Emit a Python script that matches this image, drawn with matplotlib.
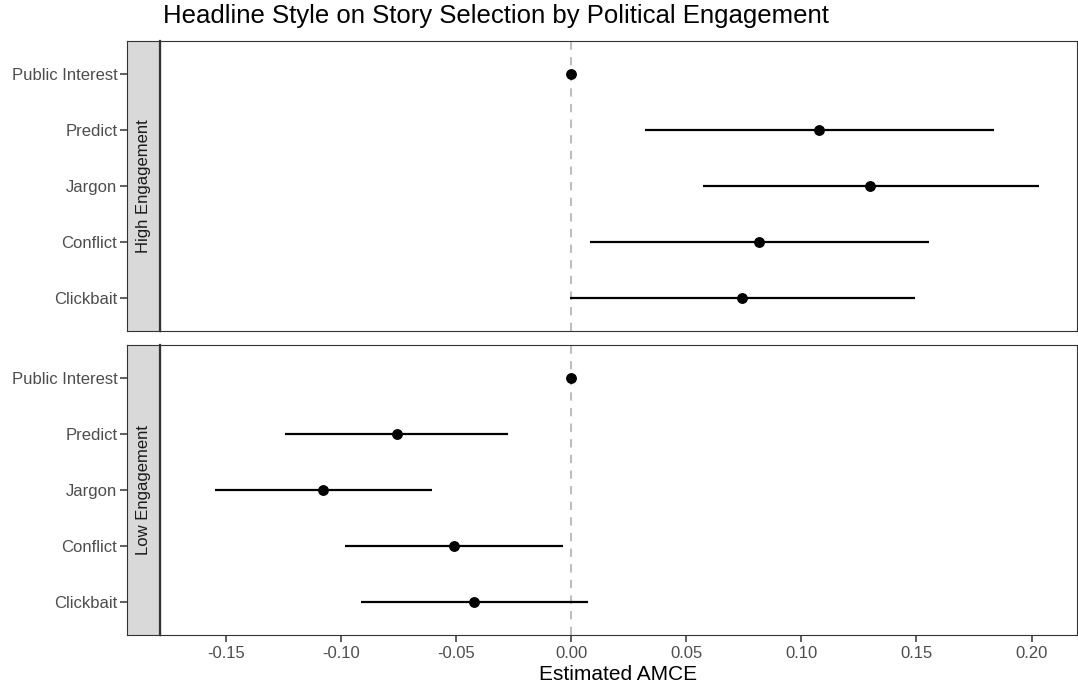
import numpy as np
import matplotlib.pyplot as plt

plt.rcParams['font.family'] = ['Liberation Sans', 'DejaVu Sans']

# === Data ===
categories = ["Clickbait", "Conflict", "Jargon", "Predict", "Public Interest"]
panels = ["High Engagement", "Low Engagement"]

high_est = [0.0743, 0.0818, 0.1300, 0.1078, 0.0]
high_lo = [-0.0006, 0.0083, 0.0574, 0.0323, np.nan]
high_hi = [0.1495, 0.1554, 0.2033, 0.1837, np.nan]

low_est = [-0.0422, -0.0510, -0.1078, -0.0758, 0.0]
low_lo = [-0.0913, -0.0981, -0.1548, -0.1242, np.nan]
low_hi = [0.0073, -0.0036, -0.0604, -0.0272, np.nan]

xticks = [-0.15, -0.10, -0.05, 0.00, 0.05, 0.10, 0.15, 0.20]

W, H = 1078, 689
fig = plt.figure(figsize=(W / 100, H / 100), dpi=100)

def fx(px):
    return px / W

def fy(px):
    return 1 - px / H

tick_col = "#4D4D4D"
border_col = "#333333"
ypos = np.arange(1, len(categories) + 1)

panel_tops = [41, 345]
data = [(high_est, high_lo, high_hi), (low_est, low_lo, low_hi)]

for i, (top, (est, lo, hi)) in enumerate(zip(panel_tops, data)):
    bottom = top + 290
    ax = fig.add_axes([fx(160), fy(bottom), fx(1077 - 160), 290 / H])
    strip = fig.add_axes([fx(127), fy(bottom), fx(33), 290 / H], sharey=ax)

    ax.axvline(0, color="#BEBEBE", ls=(0, (4, 3.5)), lw=1.5, zorder=1)
    ax.hlines(ypos, lo, hi, color="black", lw=1.6, zorder=2)
    ax.plot(est, ypos, "o", color="black", ms=6.8, zorder=3)

    ax.set_xlim(-0.1785, 0.2197)
    ax.set_ylim(0.4, 5.6)
    ax.set_xticks(xticks)
    ax.tick_params(axis="y", left=False, labelleft=False)
    for s in ax.spines.values():
        s.set_color(border_col)
        s.set_linewidth(0.8)

    strip.set_facecolor("#D9D9D9")
    strip.set_xticks([])
    strip.set_yticks(ypos)
    strip.set_yticklabels(categories)
    strip.tick_params(axis="y", length=5, width=1.1, color=border_col,
                      labelcolor=tick_col, labelsize=12, pad=2)
    for s in strip.spines.values():
        s.set_color(border_col)
        s.set_linewidth(0.8)
    strip.spines["right"].set_linewidth(1.6)
    strip.text(0.5, 0.5, panels[i], rotation=90, ha="center", va="center",
               transform=strip.transAxes, fontsize=12, color="#1A1A1A")

    if i == 0:
        ax.tick_params(axis="x", bottom=False, labelbottom=False)
    else:
        ax.set_xticklabels([f"{t:.2f}" for t in xticks])
        ax.tick_params(axis="x", length=5, width=1.1, color=border_col,
                       labelcolor=tick_col, labelsize=12, pad=3)
        ax.set_xlabel("Estimated AMCE", fontsize=15, color="black", labelpad=3)

fig.text(fx(163), fy(16), "Headline Style on Story Selection by Political Engagement",
         fontsize=18.5, ha="left", va="center", color="black")

fig.savefig("out.png", dpi=100)
